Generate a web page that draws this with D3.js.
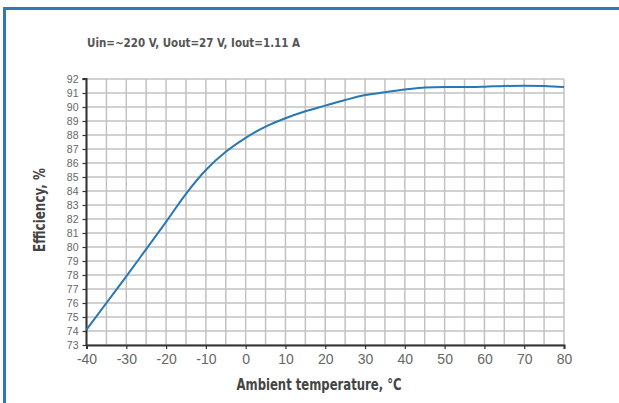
<!DOCTYPE html>
<html>
<head>
<meta charset="utf-8">
<script src="https://cdn.jsdelivr.net/npm/d3@7"></script>
<style>
  html, body { margin: 0; padding: 0; background: #fff; }
  svg { display: block; }
  text { font-family: "DejaVu Sans Condensed", "Liberation Sans", sans-serif; }
</style>
</head>
<body>
<script>
// ---- data ----
const temperatures = [-40, -35, -30, -25, -20, -15, -10, -5, 0, 5, 10, 15, 20, 25, 30, 35, 40, 45, 50, 55, 60, 65, 70, 75, 80];
const efficiency   = [74.1, 76.0, 77.9, 79.85, 81.8, 83.8, 85.5, 86.8, 87.8, 88.6, 89.2, 89.7, 90.1, 90.5, 90.85, 91.05, 91.25, 91.4, 91.42, 91.42, 91.45, 91.5, 91.52, 91.5, 91.42];
const xTicks = [-40, -30, -20, -10, 0, 10, 20, 30, 40, 50, 60, 70, 80];
const xGrid  = d3.range(-40, 81, 5);
const yTicks = d3.range(73, 93, 1);
const title = "Uin=~220 V, Uout=27 V, Iout=1.11 A";
const xLabel = "Ambient temperature, °C";
const yLabel = "Efficiency, %";

// ---- layout ----
const W = 619, H = 403;
const svg = d3.select("body").append("svg").attr("width", W).attr("height", H);

// frame
svg.append("line").attr("x1", 3).attr("x2", W).attr("y1", 8.5).attr("y2", 8.5)
  .attr("stroke", "#2b7bb9").attr("stroke-width", 3);
svg.append("line").attr("x1", 4.5).attr("x2", 4.5).attr("y1", 7).attr("y2", H)
  .attr("stroke", "#2b7bb9").attr("stroke-width", 3);

const x = d3.scaleLinear().domain([-40, 80]).range([86.5, 564]);
const y = d3.scaleLinear().domain([73, 92]).range([345, 79]);

// grid
const grid = svg.append("g");
grid.selectAll("line.v").data(xGrid).enter().append("line")
  .attr("x1", d => x(d)).attr("x2", d => x(d)).attr("y1", y(92)).attr("y2", y(73))
  .attr("stroke", "#c2c2c2").attr("stroke-width", 1.5);
grid.selectAll("line.h").data(yTicks).enter().append("line")
  .attr("x1", x(-40)).attr("x2", x(80)).attr("y1", d => y(d)).attr("y2", d => y(d))
  .attr("stroke", "#c2c2c2").attr("stroke-width", 1.5);

// axes
const fmt = d => String(d).replace("\u2212", "-");
const yAxis = svg.append("g").attr("transform", `translate(${x(-40)},0)`)
  .call(d3.axisLeft(y).tickValues(yTicks).tickSize(4).tickPadding(4).tickFormat(fmt));
const xAxis = svg.append("g").attr("transform", `translate(0,${y(73)})`)
  .call(d3.axisBottom(x).tickValues(xTicks).tickSize(4).tickPadding(5).tickFormat(fmt));
[yAxis, xAxis].forEach(a => {
  a.select(".domain").attr("stroke", "#333").attr("stroke-width", 2);
  a.selectAll(".tick line").attr("stroke", "#333").attr("stroke-width", 1.2);
  a.selectAll(".tick text").attr("fill", "#666")
    .style("font-family", "'Liberation Sans', Arial, sans-serif");
});
yAxis.selectAll(".tick text").attr("font-size", 10.5);
xAxis.selectAll(".tick text").attr("font-size", 14);
yAxis.select(".domain").attr("d", `M-4,${y(92)}H0V${y(73)}`);

// line
const line = d3.line().x((d, i) => x(temperatures[i])).y(d => y(d)).curve(d3.curveMonotoneX);
svg.append("path").datum(efficiency).attr("d", line)
  .attr("fill", "none").attr("stroke", "#2878b5").attr("stroke-width", 2);

// texts
svg.append("text").attr("x", 87).attr("y", 47).text(title)
  .attr("font-size", 12).attr("font-weight", "bold").attr("fill", "#555")
  .attr("textLength", 213).attr("lengthAdjust", "spacingAndGlyphs");
svg.append("text").attr("x", 319).attr("y", 390).attr("text-anchor", "middle").text(xLabel)
  .attr("font-size", 16.5).attr("font-weight", "bold").attr("fill", "#444")
  .attr("textLength", 165).attr("lengthAdjust", "spacingAndGlyphs");
svg.append("text").attr("transform", `translate(45,210) rotate(-90)`).attr("text-anchor", "middle")
  .text(yLabel).attr("font-size", 15).attr("font-weight", "bold").attr("fill", "#444")
  .attr("textLength", 84).attr("lengthAdjust", "spacingAndGlyphs");
</script>
</body>
</html>
